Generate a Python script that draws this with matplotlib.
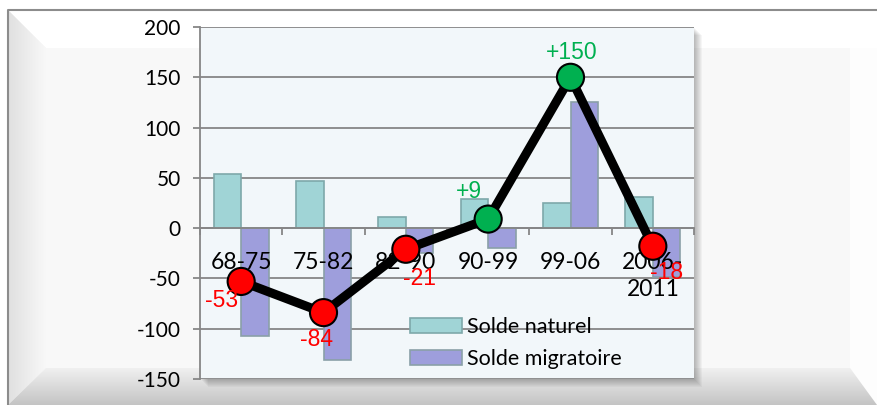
import matplotlib
matplotlib.use('Agg')
import matplotlib.pyplot as plt
import numpy as np
from matplotlib.patches import Polygon, Rectangle
from matplotlib.colors import LinearSegmentedColormap

plt.rcParams['axes.unicode_minus'] = False

periods = ['68-75', '75-82', '82-90', '90-99', '99-06', '2006-\n2011']
solde_naturel = [54, 47, 11, 29, 25, 31]
solde_migratoire = [-107, -131, -25, -20, 125, -49]
solde_total = [-53, -84, -21, 9, 150, -18]
total_labels = ['-53', '-84', '-21', '+9', '+150', '-18']

W, H = 877, 405
fig = plt.figure(figsize=(W / 100, H / 100), dpi=100)
fig.patch.set_facecolor('white')

# bevelled frame drawn in pixel coordinates
bg = fig.add_axes([0, 0, 1, 1], zorder=-10)
bg.set_xlim(0, W)
bg.set_ylim(H, 0)
bg.axis('off')
bg.add_patch(Rectangle((8, 10), W, H, facecolor='#f8f8f8', edgecolor='none'))
# top bevel
bg.add_patch(Polygon([(8, 10), (W, 10), (W, 48), (46, 48)], closed=True,
                     facecolor='white', edgecolor='none', zorder=2))
# left bevel gradient
grad = np.linspace(0, 1, 64).reshape(1, -1)
im_l = bg.imshow(grad, extent=(8, 46, H, 10),
                 cmap=LinearSegmentedColormap.from_list('l', ['#e0e0e0', '#f8f8f8']),
                 aspect='auto', zorder=3)
im_l.set_clip_path(Polygon([(8, 10), (46, 48), (46, 368), (8, H)], closed=True,
                           transform=bg.transData))
# right bevel
bg.add_patch(Polygon([(850, 48), (W, 48), (W, H), (850, 368)], closed=True,
                     facecolor='#fdfdfd', edgecolor='none', zorder=2))
# bottom bevel gradient
gradv = np.linspace(0, 1, 64).reshape(-1, 1)
im_b = bg.imshow(gradv, extent=(8, W, H, 368),
                 cmap=LinearSegmentedColormap.from_list('b', ['#f0f0f0', '#c4c4c4']),
                 aspect='auto', zorder=4)
im_b.set_clip_path(Polygon([(8, H), (46, 368), (850, 368), (W, H)], closed=True,
                           transform=bg.transData))
bg.plot([8, 8, W], [H, 10, 10], color='#8c8c8c', lw=1.5, zorder=5)
# soft shadow of the plot area
for k in range(1, 9):
    bg.add_patch(Rectangle((200 + k, 27 + k), 494, 352, facecolor='black', alpha=0.035,
                           edgecolor='none', zorder=6))

ax = fig.add_axes([200 / W, 1 - 379 / H, 494 / W, 352 / H], zorder=1)
ax.set_facecolor('#f2f7fa')

x = np.arange(len(periods))
bw = 1 / 3
ax.bar(x - bw / 2, solde_naturel, bw, color='#a0d4d6', edgecolor='#7ea8aa', lw=1.2,
       label='Solde naturel', zorder=3)
ax.bar(x + bw / 2, solde_migratoire, bw, color='#9e9edc', edgecolor='#8aa0a8', lw=1.2,
       label='Solde migratoire', zorder=3)

ax.plot(x, solde_total, color='black', lw=6.5, zorder=5, solid_capstyle='round')
colors = ['#ff0000' if v < 0 else '#00b050' for v in solde_total]
ax.scatter(x, solde_total, s=19.5 ** 2, c=colors, edgecolors='black', linewidths=1.5, zorder=6)

offsets = [(-14, -14), (-5, -19), (10, -21), (-14, 20), (1, 18), (10, -19)]
for i, (v, lab) in enumerate(zip(solde_total, total_labels)):
    ax.annotate(lab, (x[i], v), xytext=offsets[i], textcoords='offset points',
                ha='center', va='center', fontsize=16.5, family='Liberation Sans',
                color='#00b050' if v > 0 else '#ff0000', zorder=7)

for i, p in enumerate(periods):
    ax.annotate(p, (x[i], 0), xytext=(0, -17), textcoords='offset points', ha='center',
                va='top', fontsize=16.5, family='Lato', linespacing=1.35, zorder=4)

ax.set_xlim(-0.5, 5.5)
ax.set_ylim(-150, 200)
ax.set_yticks(np.arange(-150, 201, 50))
ax.yaxis.grid(True, color='#868686', lw=1.3, zorder=1)
ax.set_axisbelow(True)
ax.tick_params(axis='y', length=5, width=1.3, color='#868686', pad=9, labelsize=15)
for t in ax.get_yticklabels():
    t.set_family('Lato')
ax.set_xticks(np.arange(-0.5, 5.6, 1))
ax.set_xticklabels([])
ax.tick_params(axis='x', length=5, width=1.3, color='#868686')
ax.spines['bottom'].set_position(('data', 0))
ax.spines['bottom'].set_color('#868686')
ax.spines['bottom'].set_linewidth(1.3)
ax.spines['bottom'].set_zorder(4)
ax.spines['left'].set_color('#868686')
ax.spines['left'].set_linewidth(1.3)
ax.spines['top'].set_visible(False)
ax.spines['right'].set_visible(False)

ax.legend(loc='upper left', bbox_to_anchor=(0.425, 0.175), frameon=False,
          prop={'family': 'Lato', 'size': 15.5}, borderpad=0, borderaxespad=0,
          handlelength=2.4, handleheight=0.7, handletextpad=0.25, labelspacing=0.55)

fig.savefig('out.png', dpi=100)
